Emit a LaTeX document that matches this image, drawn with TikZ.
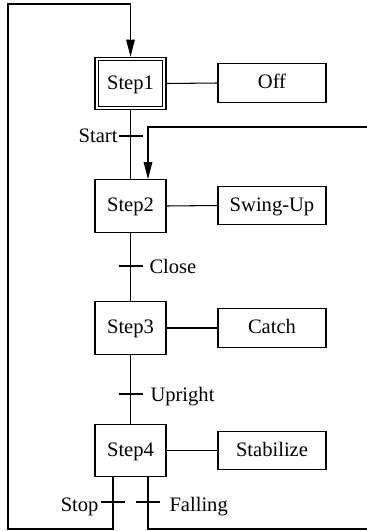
\documentclass[tikz,border=0pt]{standalone}
\usepackage{fontspec}
\setmainfont{Liberation Serif}
\usetikzlibrary{arrows.meta}
\begin{document}
\begin{tikzpicture}[x=0.02cm,y=-0.02cm,
  line width=0.6pt,
  every node/.style={font=\fontsize{11.7}{14}\selectfont, inner sep=0pt, text height=0.66em, text depth=0pt},
  stepbox/.style={draw, minimum width=1.42cm, minimum height=1.05cm},
  actbox/.style={draw, minimum width=2.16cm, minimum height=0.77cm},
  lbl/.style={inner sep=0pt, text height=, text depth=},
  arr/.style={-{Triangle[length=3.4mm,width=1.7mm]}}]
\useasboundingbox (0,0) rectangle (367,531);
\clip (0,0) rectangle (367,531);
% steps
\node[stepbox] (s1) at (130.5,83.5) {Step1};
\node[stepbox] (s2) at (130.5,206) {Step2};
\node[stepbox] (s3) at (130.5,328) {Step3};
\node[stepbox] (s4) at (130.5,450.5) {Step4};
\draw ([shift={(4,4)}]s1.north west) rectangle ([shift={(-4,-4)}]s1.south east);
% actions
\node[actbox] (a1) at (272,83) {Off};
\node[actbox] (a2) at (272,205.5) {Swing-Up};
\node[actbox] (a3) at (272,328) {Catch};
\node[actbox] (a4) at (272,450.5) {Stabilize};
\foreach \i in {1,2,3,4} \draw (s\i.east) -- (a\i.west);
% main flow
\draw (s1.south) -- (s2.north);
\draw (s2.south) -- (s3.north);
\draw (s3.south) -- (s4.north);
% transition marks
\coordinate (t1) at (130.5,136);
\coordinate (t2) at (130.5,266);
\coordinate (t3) at (130.5,394);
\coordinate (t4) at (113,502);
\coordinate (t5) at (148,502);
\foreach \t in {t1,t2,t3,t4,t5} \draw (\t) ++(-12,0) -- ++(24,0);
% labels
\node[anchor=base east] (l1) at (118,142) {Start};
\node[anchor=base west] (l2) at (149,273) {Close};
\node[anchor=base west] (l3) at (150,401) {Upright};
\node[anchor=base east] (l4) at (99,511) {Stop};
\node[anchor=base west] (l5) at (169,511) {Falling};
% loop back to Step1
\coordinate (bl) at (8,529);
\coordinate (tl) at (8,4);
\draw[arr] (113,0 |- s4.south) -- (113,529) -- (bl) -- (tl) -- (130.5,4) -- (s1.north);
% loop back to Step2
\coordinate (br) at (368.5,529);
\coordinate (tr) at (368.5,127);
\draw[arr] (148,0 |- s4.south) -- (148,529) -- (br) -- (tr) -- (148,127) -- (148,0 |- s2.north);
\end{tikzpicture}
\end{document}
